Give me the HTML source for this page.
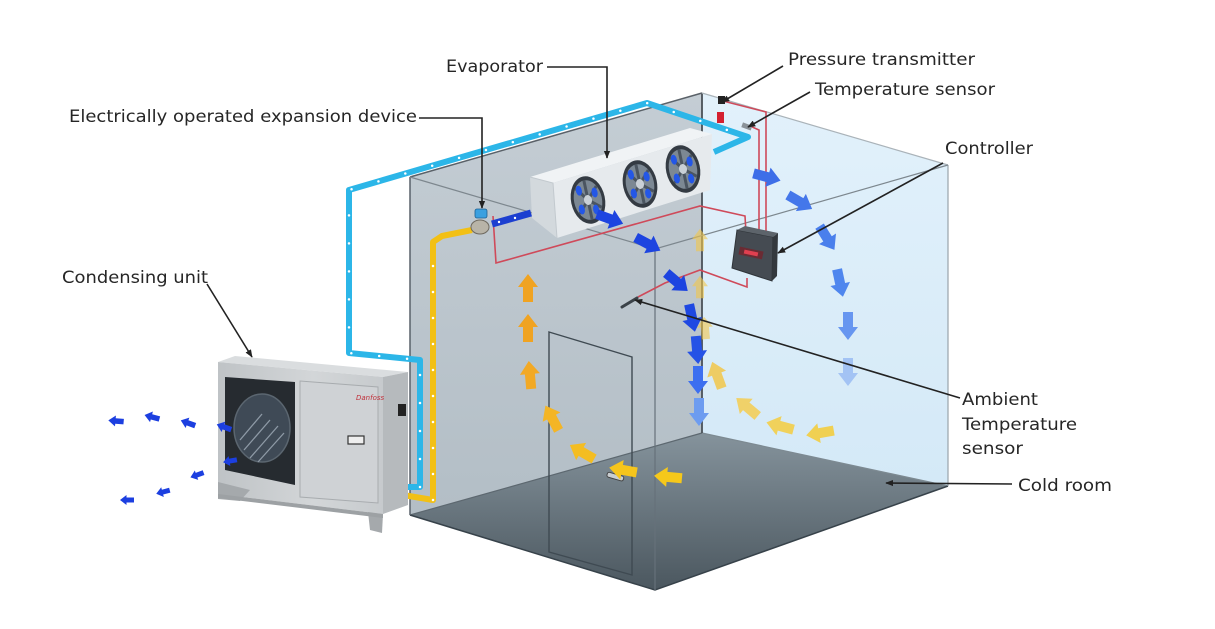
<!DOCTYPE html>
<html>
<head>
<meta charset="utf-8">
<style>
html,body{margin:0;padding:0;background:#fff;}
svg{display:block;}
text{font-family:"DejaVu Sans","Liberation Sans",sans-serif;font-size:17px;fill:#262626;}
</style>
</head>
<body>
<svg width="1215" height="629" viewBox="0 0 1215 629" xmlns="http://www.w3.org/2000/svg">
<defs>
  <linearGradient id="fl" x1="0" y1="433" x2="0" y2="590" gradientUnits="userSpaceOnUse">
    <stop offset="0" stop-color="#85939c"/><stop offset="1" stop-color="#4b575f"/>
  </linearGradient>
  <linearGradient id="gw" x1="0" y1="93" x2="0" y2="515" gradientUnits="userSpaceOnUse">
    <stop offset="0" stop-color="#c4cdd4"/><stop offset="1" stop-color="#b3bec6"/>
  </linearGradient>
  <linearGradient id="bw" x1="0" y1="93" x2="0" y2="486" gradientUnits="userSpaceOnUse">
    <stop offset="0" stop-color="#e2f1fb"/><stop offset="1" stop-color="#d4e9f7"/>
  </linearGradient>
  <linearGradient id="cu" x1="218" y1="0" x2="408" y2="0" gradientUnits="userSpaceOnUse">
    <stop offset="0" stop-color="#bfc3c6"/><stop offset="0.5" stop-color="#d3d6d8"/><stop offset="1" stop-color="#c2c6c9"/>
  </linearGradient>
  <marker id="ah" viewBox="0 0 10 10" refX="9" refY="5" markerWidth="8" markerHeight="8" orient="auto" markerUnits="userSpaceOnUse">
    <path d="M0,1 L10,5 L0,9 Z" fill="#222"/>
  </marker>
  <path id="ar" d="M-14,-5 L1,-5 L1,-10 L14,0 L1,10 L1,5 L-14,5 Z"/>
  <g id="fan">
    <ellipse cx="0" cy="0" rx="17" ry="24" fill="#343b43"/>
    <ellipse cx="0" cy="0" rx="14" ry="20" fill="#7c8893"/>
    <path d="M0,0 L-10,-14 M0,0 L11,-12 M0,0 L12,10 M0,0 L-11,12 M0,0 L0,-20 M0,0 L0,20" stroke="#4b5560" stroke-width="3"/>
    <ellipse cx="-7" cy="-11" rx="3" ry="5" fill="#2457e6"/>
    <ellipse cx="8" cy="-6" rx="3" ry="5" fill="#2457e6"/>
    <ellipse cx="6" cy="11" rx="3" ry="5" fill="#2457e6"/>
    <ellipse cx="-8" cy="8" rx="3" ry="5" fill="#2457e6"/>
    <ellipse cx="0" cy="0" rx="4" ry="5" fill="#c9d0d6"/>
  </g>
</defs>

<!-- ROOM -->
<polygon points="410,177 702,93 702,433 410,515" fill="url(#gw)"/>
<polygon points="702,93 948,165 948,486 702,433" fill="url(#bw)"/>
<polygon points="410,515 702,433 948,486 655,590" fill="url(#fl)"/>

<line x1="410" y1="515" x2="702" y2="433" stroke="#5d6870" stroke-width="1.2"/>
<line x1="702" y1="433" x2="948" y2="486" stroke="#7d8a92" stroke-width="1.2"/>
<polyline points="410,515 655,590 948,486" fill="none" stroke="#37424a" stroke-width="1.5"/>
<line x1="410" y1="177" x2="410" y2="515" stroke="#58616a" stroke-width="1.5"/>
<line x1="702" y1="93" x2="702" y2="433" stroke="#4a5158" stroke-width="1.8"/>
<line x1="655" y1="249" x2="655" y2="590" stroke="#66717a" stroke-width="1.2"/>
<line x1="948" y1="165" x2="948" y2="486" stroke="#9aa4ab" stroke-width="1.2"/>
<line x1="410" y1="177" x2="702" y2="93" stroke="#5a6168" stroke-width="1.5"/>
<line x1="702" y1="93" x2="948" y2="165" stroke="#aab3b9" stroke-width="1.2"/>
<polyline points="410,177 655,249 948,165" fill="none" stroke="#7d878e" stroke-width="1.2"/>

<!-- door -->
<polygon points="549,332 632,357 632,575 549,552" fill="none" stroke="#3f4a52" stroke-width="1.4"/>
<rect x="607" y="474" width="17" height="5" rx="2" transform="rotate(16 615 476)" fill="#c9ced2" stroke="#444" stroke-width="1"/>

<!-- EVAPORATOR -->
<polygon points="530,177 690,128 712,134 553,183" fill="#f0f3f5"/>
<polygon points="530,177 553,183 557,238 532,218" fill="#d3d9dd"/>
<polygon points="553,183 712,134 710,190 557,238" fill="#e6eaed"/>
<polyline points="530,177 553,183 557,238" fill="none" stroke="#c2c9ce" stroke-width="1"/>
<use href="#fan" transform="translate(588,200) rotate(-12)"/>
<use href="#fan" transform="translate(640,184) rotate(-12)"/>
<use href="#fan" transform="translate(683,169) rotate(-12)"/>

<!-- red wires -->
<g fill="none" stroke="#cf4a5a" stroke-width="1.6">
  <polyline points="493,216 496,263 700,206 745,216 746,233"/>
  <polyline points="638,297 665,283 700,270 747,287 747,278"/>
  <polyline points="723,101 766,112 766,235"/>
  <polyline points="750,126 759,130 759,235"/>
</g>

<!-- controller -->
<polygon points="737,230 773,237 772,281 732,268" fill="#454b52" stroke="#2f3439" stroke-width="1"/>
<polygon points="737,230 745,226 778,233 773,237" fill="#5d646b"/>
<polygon points="773,237 778,233 777,276 772,281" fill="#33383d"/>
<rect x="739" y="249" width="24" height="8" fill="#6a2b33" transform="rotate(12 751 253)"/>
<rect x="744" y="251" width="14" height="4" fill="#e04050" transform="rotate(12 751 253)"/>

<!-- sensors -->
<rect x="718" y="96" width="7" height="8" fill="#222"/>
<rect x="717" y="112" width="7" height="11" fill="#d42030"/>
<rect x="742" y="124" width="10" height="5" fill="#8a9299" transform="rotate(20 747 126)"/>
<line x1="622" y1="307" x2="637" y2="298" stroke="#3b4248" stroke-width="3" stroke-linecap="round"/>

<!-- yellow pipe -->
<polyline points="403,495 433,500 433,242 442,236 472,230" fill="none" stroke="#f2c015" stroke-width="6" stroke-linejoin="round"/>
<polyline points="433,500 433,242" fill="none" stroke="#fff" stroke-width="2.5" stroke-dasharray="0 26" stroke-linecap="round"/>
<!-- blue suction pipe -->
<polyline points="403,487 420,487 420,360 349,353 349,190 647,103 748,137 714,152" fill="none" stroke="#2cb6e8" stroke-width="6" stroke-linejoin="round"/>
<polyline points="420,487 420,360 349,353 349,190 647,103 748,137" fill="none" stroke="#fff" stroke-width="2.5" stroke-dasharray="0 28" stroke-linecap="round"/>
<!-- valve + short dark blue pipe -->
<line x1="492" y1="224" x2="531" y2="213" stroke="#1c3fd0" stroke-width="7"/>
<circle cx="499" cy="222" r="1.2" fill="#fff"/><circle cx="515" cy="218" r="1.2" fill="#fff"/>
<ellipse cx="480" cy="227" rx="9" ry="7" fill="#b8b4a8" stroke="#6f6a60" stroke-width="1"/>
<rect x="475" y="209" width="12" height="9" rx="2" fill="#3aa0e0" stroke="#1f5f90" stroke-width="0.8"/>

<!-- CONDENSING UNIT -->
<polygon points="218,362 235,356 408,372 383,377" fill="#dadddf"/>
<polygon points="218,362 383,377 383,514 218,494" fill="url(#cu)"/>
<polygon points="383,377 408,372 408,505 383,514" fill="#b6babd"/>
<polygon points="225,377 295,382 295,485 225,470" fill="#262b30"/>
<ellipse cx="262" cy="428" rx="28" ry="34" fill="#3f4a56" stroke="#5b6670" stroke-width="1.5"/>
<g stroke="#8e9aa6" stroke-width="1.3">
  <line x1="240" y1="440" x2="262" y2="414"/><line x1="244" y1="450" x2="270" y2="420"/>
  <line x1="250" y1="458" x2="278" y2="426"/><line x1="258" y1="462" x2="284" y2="433"/>
</g>
<polygon points="300,381 378,387 378,503 300,497" fill="#cfd2d5" stroke="#a8acaf" stroke-width="1"/>
<rect x="348" y="436" width="16" height="8" fill="#eee" stroke="#333" stroke-width="1.2"/>
<text x="356" y="400" style="font-size:7px;fill:#c0303a;font-style:italic;">Danfoss</text>
<rect x="398" y="404" width="8" height="12" fill="#222"/>
<polygon points="218,482 250,490 240,501 218,499" fill="#a5a9ac"/>
<polygon points="368,512 383,514 382,533 370,530" fill="#a5a9ac"/>
<polygon points="218,494 383,514 383,518 218,498" fill="#9da1a4"/>

<!-- small blue arrows near condenser -->
<g fill="#1c3fe0">
  <use href="#ar" transform="translate(116,421) rotate(185) scale(0.55)"/>
  <use href="#ar" transform="translate(152,417) rotate(195) scale(0.55)"/>
  <use href="#ar" transform="translate(188,423) rotate(200) scale(0.55)"/>
  <use href="#ar" transform="translate(224,427) rotate(200) scale(0.55)"/>
  <use href="#ar" transform="translate(230,461) rotate(170) scale(0.5)"/>
  <use href="#ar" transform="translate(197,475) rotate(160) scale(0.5)"/>
  <use href="#ar" transform="translate(163,492) rotate(165) scale(0.5)"/>
  <use href="#ar" transform="translate(127,500) rotate(180) scale(0.5)"/>
</g>

<!-- cold air (blue) arrows -->
<use href="#ar" transform="translate(610,219) rotate(20)" fill="#1d44e0"/>
<use href="#ar" transform="translate(648,244) rotate(28)" fill="#1d44e0"/>
<use href="#ar" transform="translate(677,282) rotate(40)" fill="#1d44e0"/>
<use href="#ar" transform="translate(692,318) rotate(78)" fill="#1f48e2"/>
<use href="#ar" transform="translate(697,350) rotate(85)" fill="#2552e6"/>
<use href="#ar" transform="translate(698,380) rotate(90)" fill="#3c6ff0"/>
<use href="#ar" transform="translate(699,412) rotate(90)" fill="#6d9cf0"/>
<use href="#ar" transform="translate(767,177) rotate(15)" fill="#3d6ee8"/>
<use href="#ar" transform="translate(800,202) rotate(30)" fill="#4477ea"/>
<use href="#ar" transform="translate(827,238) rotate(58)" fill="#4a7fec"/>
<use href="#ar" transform="translate(840,283) rotate(78)" fill="#4f86ee"/>
<use href="#ar" transform="translate(848,326) rotate(90)" fill="#6796f0"/>
<use href="#ar" transform="translate(848,372) rotate(90)" fill="#a3c3f4"/>

<!-- warm air (yellow/orange) arrows -->
<use href="#ar" transform="translate(528,288) rotate(-90)" fill="#f0a322"/>
<use href="#ar" transform="translate(528,328) rotate(-90)" fill="#f0a322"/>
<use href="#ar" transform="translate(530,375) rotate(-95)" fill="#f2a925"/>
<use href="#ar" transform="translate(552,418) rotate(-118)" fill="#f4b525"/>
<use href="#ar" transform="translate(582,452) rotate(-150)" fill="#f4bd22"/>
<use href="#ar" transform="translate(623,470) rotate(-170)" fill="#f6c51c"/>
<use href="#ar" transform="translate(668,477) rotate(185)" fill="#f6c81a"/>
<use href="#ar" transform="translate(717,375) rotate(-110)" fill="#f2c74a" opacity="0.85"/>
<use href="#ar" transform="translate(747,407) rotate(-140)" fill="#f4cd50" opacity="0.85"/>
<use href="#ar" transform="translate(780,426) rotate(-165)" fill="#f5cd40" opacity="0.85"/>
<use href="#ar" transform="translate(820,433) rotate(170)" fill="#f5cb35" opacity="0.85"/>
<use href="#ar" transform="translate(700,240) rotate(-90) scale(0.8)" fill="#f2c64a" opacity="0.6"/>
<use href="#ar" transform="translate(700,287) rotate(-90) scale(0.8)" fill="#f2c64a" opacity="0.6"/>
<use href="#ar" transform="translate(705,328) rotate(-95) scale(0.8)" fill="#f2c64a" opacity="0.6"/>

<!-- LEADER LINES -->
<g fill="none" stroke="#222" stroke-width="1.6">
  <polyline points="547,67 607,67 607,158" marker-end="url(#ah)"/>
  <polyline points="419,118 482,118 482,208" marker-end="url(#ah)"/>
  <line x1="783" y1="66" x2="722" y2="102" marker-end="url(#ah)"/>
  <line x1="810" y1="92" x2="748" y2="127" marker-end="url(#ah)"/>
  <line x1="943" y1="163" x2="778" y2="253" marker-end="url(#ah)"/>
  <line x1="207" y1="284" x2="252" y2="357" marker-end="url(#ah)"/>
  <line x1="960" y1="398" x2="635" y2="300" marker-end="url(#ah)"/>
  <line x1="1012" y1="484" x2="886" y2="483" marker-end="url(#ah)"/>
</g>

<!-- LABELS -->
<text x="788" y="65" textLength="187" lengthAdjust="spacingAndGlyphs">Pressure transmitter</text>
<text x="815" y="95" textLength="180" lengthAdjust="spacingAndGlyphs">Temperature sensor</text>
<text x="446" y="72" textLength="97" lengthAdjust="spacingAndGlyphs">Evaporator</text>
<text x="69" y="122" textLength="348" lengthAdjust="spacingAndGlyphs">Electrically operated expansion device</text>
<text x="945" y="154" textLength="88" lengthAdjust="spacingAndGlyphs">Controller</text>
<text x="62" y="283" textLength="146" lengthAdjust="spacingAndGlyphs">Condensing unit</text>
<text x="962" y="405" textLength="76" lengthAdjust="spacingAndGlyphs">Ambient</text>
<text x="962" y="430" textLength="115" lengthAdjust="spacingAndGlyphs">Temperature</text>
<text x="962" y="454" textLength="61" lengthAdjust="spacingAndGlyphs">sensor</text>
<text x="1018" y="491" textLength="94" lengthAdjust="spacingAndGlyphs">Cold room</text>
</svg>
</body>
</html>
